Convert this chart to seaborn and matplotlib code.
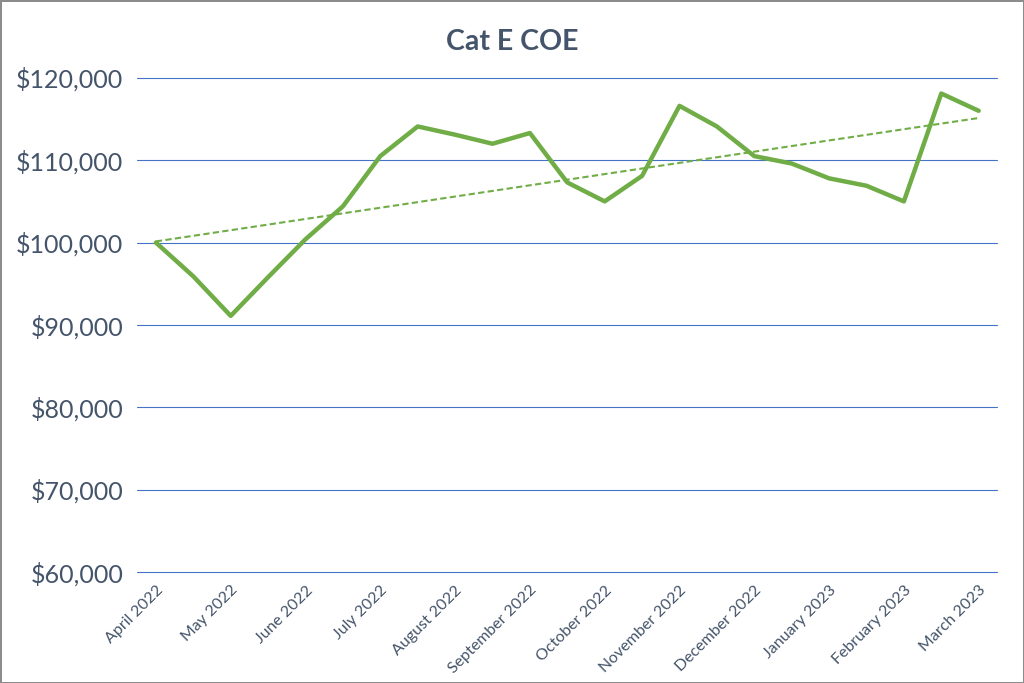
import numpy as np
import pandas as pd
import matplotlib
matplotlib.use("Agg")
import matplotlib.pyplot as plt
import seaborn as sns
from matplotlib.ticker import FuncFormatter, MultipleLocator

# ---- data ----
bid_index = list(range(23))
coe_values = [100000, 95900, 91100, 95800, 100400, 104400, 110500, 114100,
              113100, 112000, 113300, 107300, 105000, 108100, 116600, 114100,
              110500, 109600, 107800, 106900, 105000, 118100, 116000]
month_labels = ["April 2022", "May 2022", "June 2022", "July 2022", "August 2022",
                "September 2022", "October 2022", "November 2022", "December 2022",
                "January 2023", "February 2023", "March 2023"]
title = "Cat E COE"

df = pd.DataFrame({"idx": bid_index, "coe": coe_values})
coef = np.polyfit(df["idx"], df["coe"], 1)
df["trend"] = np.polyval(coef, df["idx"])

sns.set_theme(style="white")
plt.rcParams["font.family"] = ["Lato", "DejaVu Sans"]

text_color = "#44546A"
line_color = "#70AD47"
grid_color = "#4472C4"

fig = plt.figure(figsize=(10.24, 6.83), dpi=100)
fig.patch.set_facecolor("white")
fig.patch.set_edgecolor("#8c8c8c")
fig.patch.set_linewidth(2)
ax = fig.add_axes([0.134, 0.1625, 0.840, 0.7235])

ax.set_ylim(60000, 120000)
ax.set_xlim(-0.5, 22.5)
ax.yaxis.set_major_locator(MultipleLocator(10000))
for y in range(60000, 120001, 10000):
    ax.axhline(y, color=grid_color, linewidth=0.8, zorder=0, clip_on=False)

sns.lineplot(data=df, x="idx", y="trend", ax=ax, color=line_color,
             linewidth=1.5, linestyle=(0, (3, 1.6)), zorder=2)
sns.lineplot(data=df, x="idx", y="coe", ax=ax, color=line_color,
             linewidth=3.2, zorder=3)

ax.set_xticks(bid_index[::2])
ax.set_xticklabels(month_labels, rotation=45, ha="right",
                   rotation_mode="anchor", fontsize=11.5, color=text_color)
ax.tick_params(axis="x", length=0, pad=8)
ax.tick_params(axis="y", length=0, pad=10, labelsize=18, labelcolor=text_color)
ax.yaxis.set_major_formatter(FuncFormatter(lambda v, p: f"${v:,.0f}"))
ax.set_xlabel("")
ax.set_ylabel("")
for s in ax.spines.values():
    s.set_visible(False)

fig.text(0.5, 0.938, title, ha="center", va="center", fontsize=20.5,
         fontweight="bold", color=text_color)

fig.savefig("out.png", dpi=100)
